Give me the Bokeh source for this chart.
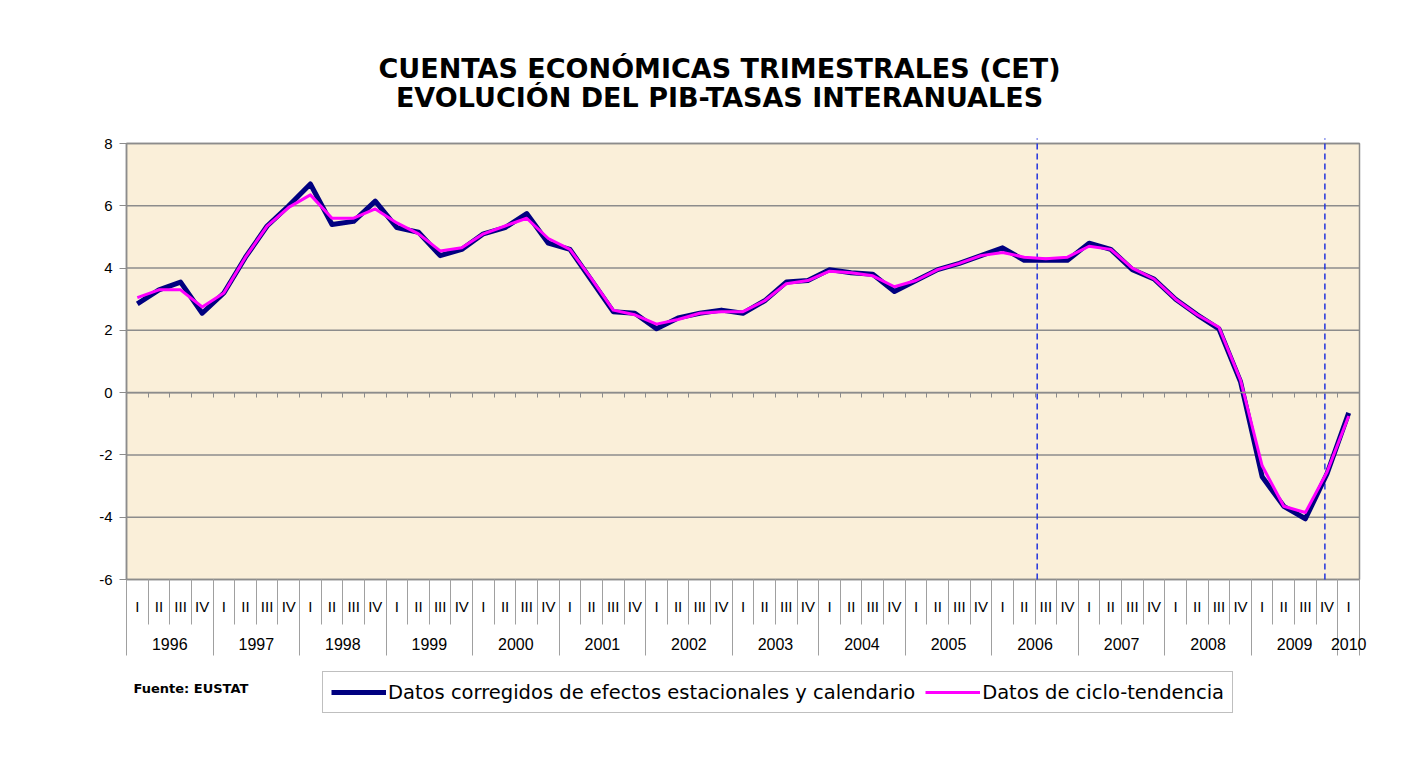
from bokeh.plotting import figure
from bokeh.models import (Range1d, LinearAxis, FixedTicker, Label, Legend, LegendItem)
from bokeh.embed import file_html
from bokeh.resources import INLINE

# ---------------- data ----------------
years = ["1996", "1997", "1998", "1999", "2000", "2001", "2002", "2003",
         "2004", "2005", "2006", "2007", "2008", "2009", "2010"]
quarter_labels = ["I", "II", "III", "IV"]
n_quarters = 57  # 1996-I .. 2010-I

corregidos = [2.85, 3.3, 3.55, 2.55, 3.2, 4.35, 5.35, 6.0, 6.7, 5.4, 5.5, 6.15,
              5.3, 5.15, 4.4, 4.6, 5.1, 5.3, 5.75, 4.8, 4.6, 3.6, 2.6, 2.55,
              2.05, 2.4, 2.55, 2.65, 2.55, 2.95, 3.55, 3.6, 3.95, 3.85, 3.8, 3.25,
              3.6, 3.95, 4.15, 4.4, 4.65, 4.25, 4.25, 4.25, 4.8, 4.6, 3.95, 3.65,
              3.0, 2.5, 2.05, 0.35, -2.7, -3.65, -4.05, -2.6, -0.65]
tendencia = [3.05, 3.3, 3.3, 2.75, 3.2, 4.35, 5.35, 5.95, 6.35, 5.6, 5.6, 5.9,
             5.45, 5.1, 4.55, 4.65, 5.1, 5.35, 5.6, 4.95, 4.6, 3.65, 2.65, 2.5,
             2.2, 2.35, 2.55, 2.6, 2.6, 2.95, 3.5, 3.6, 3.9, 3.85, 3.75, 3.4,
             3.6, 3.95, 4.15, 4.4, 4.5, 4.35, 4.3, 4.35, 4.7, 4.6, 4.0, 3.65,
             3.0, 2.5, 2.1, 0.4, -2.35, -3.65, -3.85, -2.55, -0.75]
y_ticks = [-6, -4, -2, 0, 2, 4, 6, 8]
y_tick_labels = ["-6", "-4", "-2", "0", "2", "4", "6", "8"]
y_min, y_max = -6, 8
dashed_marks = [42.1, 55.4]  # blue dashed reference lines (quarter units)

title_1 = "CUENTAS ECONÓMICAS TRIMESTRALES (CET)"
title_2 = "EVOLUCIÓN DEL PIB-TASAS INTERANUALES"
legend_1 = "Datos corregidos de efectos estacionales y calendario"
legend_2 = "Datos de ciclo-tendencia"
source_text = "Fuente: EUSTAT"

# ---------------- layout (pixels) ----------------
W, H = 1410, 755
PX_LEFT, PX_RIGHT = 126, 1359      # plot area edges
PX_TOP, PX_BOTTOM = 143, 579
qw = (PX_RIGHT - PX_LEFT) / n_quarters
uh = (PX_BOTTOM - PX_TOP) / (y_max - y_min)
x_start = -PX_LEFT / qw
x_end = (W - PX_LEFT) / qw
y_top = y_max + PX_TOP / uh
y_bot = y_min - (H - PX_BOTTOM) / uh

def ydata(py):
    return y_min + (PX_BOTTOM - py) / uh

def xdata(px):
    return (px - PX_LEFT) / qw

xs = [i + 0.5 for i in range(n_quarters)]
q_bounds = list(range(n_quarters + 1))
year_bounds = list(range(0, n_quarters, 4)) + [n_quarters]
year_centers = [(year_bounds[k] + year_bounds[k + 1]) / 2 for k in range(len(years))]

GRID = "#8c8c8c"
SEP = "#a0a0a0"

p = figure(width=W, height=H, output_backend="svg", toolbar_location=None,
           x_range=Range1d(x_start, x_end), y_range=Range1d(y_bot, y_top),
           x_axis_location=None, y_axis_location=None, min_border=0)
for g in list(p.grid):
    g.visible = False
p.outline_line_color = None
p.background_fill_color = "white"
p.border_fill_color = "white"

# plot area
p.quad(left=[0], right=[n_quarters], bottom=[y_min], top=[y_max],
       fill_color="#FAEFD9", line_color=GRID, line_width=1.5)

# horizontal gridlines, limited to the plot area
p.segment(x0=[0] * len(y_ticks), x1=[n_quarters] * len(y_ticks), y0=y_ticks, y1=y_ticks,
          line_color=GRID, line_width=1.5)

# y axis
yax = LinearAxis(fixed_location=0, bounds=(y_min, y_max), ticker=FixedTicker(ticks=y_ticks),
                 major_label_overrides={t: s for t, s in zip(y_ticks, y_tick_labels)},
                 axis_line_color=GRID, axis_line_width=1.5,
                 major_tick_line_color=GRID, major_tick_out=7, major_tick_in=0,
                 minor_tick_line_color=None, major_label_standoff=7,
                 major_label_text_font="Liberation Sans", major_label_text_font_size="15px",
                 major_label_text_color="black")
p.add_layout(yax, "left")

# axis crossing at zero with small ticks
zero_ax = LinearAxis(fixed_location=0, bounds=(0, n_quarters),
                     ticker=FixedTicker(ticks=[], minor_ticks=q_bounds),
                     axis_line_color=GRID, axis_line_width=1.5,
                     minor_tick_line_color=GRID, minor_tick_out=5, minor_tick_in=0,
                     major_tick_line_color=None, major_label_text_font_size="0px")
p.add_layout(zero_ax, "below")

# quarter labels
q_over = {xs[i]: quarter_labels[i % 4] for i in range(n_quarters)}
q_ax = LinearAxis(fixed_location=y_min, ticker=FixedTicker(ticks=xs, minor_ticks=q_bounds),
                  major_label_overrides=q_over, axis_line_color=None,
                  major_tick_line_color=None, major_tick_out=0, major_tick_in=0,
                  minor_tick_line_color=SEP, minor_tick_out=45, minor_tick_in=0,
                  major_label_standoff=-27, major_label_text_font="Liberation Sans",
                  major_label_text_font_size="15px", major_label_text_color="black")
p.add_layout(q_ax, "below")

# year labels
y_over = {year_centers[k]: years[k] for k in range(len(years))}
y_ax = LinearAxis(fixed_location=y_min, ticker=FixedTicker(ticks=year_centers, minor_ticks=year_bounds),
                  major_label_overrides=y_over, axis_line_color=None,
                  major_tick_line_color=None, major_tick_out=0, major_tick_in=0,
                  minor_tick_line_color=SEP, minor_tick_out=76, minor_tick_in=0,
                  major_label_standoff=-18, major_label_text_font="Liberation Sans",
                  major_label_text_font_size="16px", major_label_text_color="black")
p.add_layout(y_ax, "below")

# dashed reference lines
p.segment(x0=dashed_marks, y0=[y_min] * len(dashed_marks), x1=dashed_marks,
          y1=[ydata(138)] * len(dashed_marks), line_color="#2233dd",
          line_width=1.5, line_dash="6 4")

# series
r1 = p.line(xs, corregidos, line_color="#000080", line_width=5, line_join="round")
r2 = p.line(xs, tendencia, line_color="#FF00FF", line_width=3, line_join="round")

legend = Legend(items=[LegendItem(label=legend_1, renderers=[r1]),
                       LegendItem(label=legend_2, renderers=[r2])],
                orientation="horizontal", location=(322, H - 713),
                border_line_color="#808080", border_line_width=1,
                background_fill_color="white", background_fill_alpha=1,
                padding=8, spacing=10, margin=0, glyph_width=55, glyph_height=24,
                label_height=24, label_standoff=2,
                label_text_font="DejaVu Sans", label_text_font_size="19.5px",
                label_text_color="black")
p.add_layout(legend, "center")

# titles and source
p.add_layout(Label(x=xdata(719), y=ydata(67.5), text=title_1, text_align="center",
                   text_baseline="middle", text_font="DejaVu Sans", text_font_style="bold",
                   text_font_size="27px", text_color="black"))
p.add_layout(Label(x=xdata(719), y=ydata(97), text=title_2, text_align="center",
                   text_baseline="middle", text_font="DejaVu Sans", text_font_style="bold",
                   text_font_size="27px", text_color="black"))
p.add_layout(Label(x=xdata(133), y=ydata(688), text=source_text, text_align="left",
                   text_baseline="middle", text_font="DejaVu Sans", text_font_style="bold",
                   text_font_size="13px", text_color="black"))

open("out.html", "w").write(file_html(p, INLINE))
